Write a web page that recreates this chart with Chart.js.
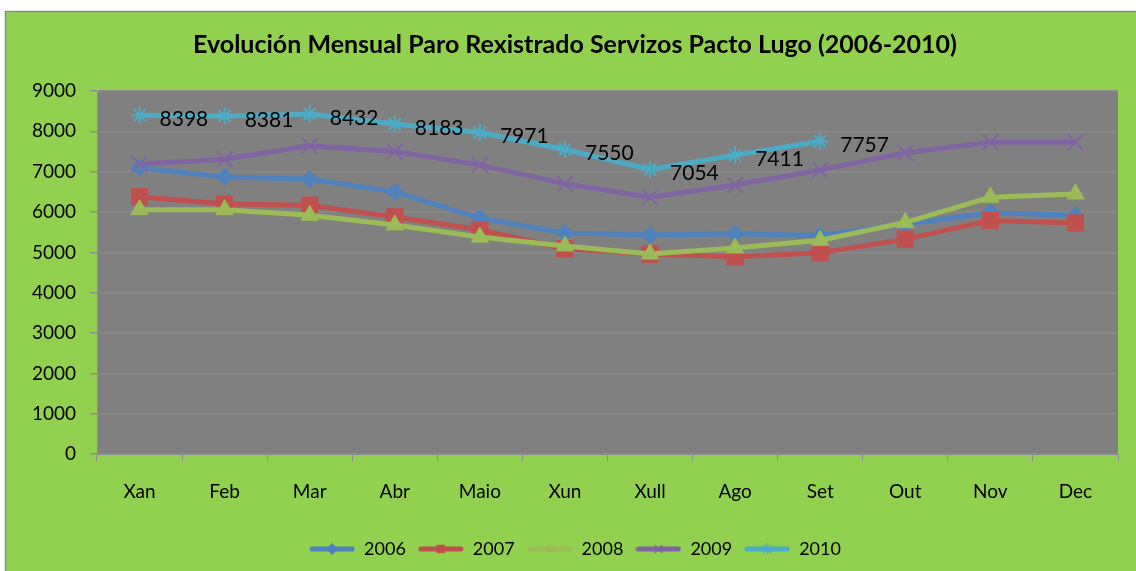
<!DOCTYPE html>
<html>
<head>
<meta charset="utf-8">
<script src="https://cdn.jsdelivr.net/npm/chart.js@4"></script>
<style>
  html, body { margin: 0; padding: 0; background: #fff; }
  #wrap { width: 1136px; height: 571px; }
</style>
</head>
<body>
<div id="wrap"><canvas id="paroChart" width="1136" height="571"></canvas></div>
<script>
const meses = ["Xan", "Feb", "Mar", "Abr", "Maio", "Xun", "Xull", "Ago", "Set", "Out", "Nov", "Dec"];
const anos = ["2006", "2007", "2008", "2009", "2010"];
const paro2006 = [7100, 6870, 6820, 6500, 5850, 5480, 5430, 5460, 5420, 5700, 5980, 5920];
const paro2007 = [6380, 6200, 6170, 5880, 5560, 5090, 4960, 4890, 4990, 5330, 5790, 5730];
const paro2008 = [6060, 6060, 5920, 5680, 5380, 5160, 4960, 5110, 5300, 5740, 6370, 6450];
const paro2009 = [7190, 7310, 7640, 7500, 7170, 6700, 6370, 6670, 7040, 7470, 7730, 7730];
const paro2010 = [8398, 8381, 8432, 8183, 7971, 7550, 7054, 7411, 7757, null, null, null];
const yTicks = [0, 1000, 2000, 3000, 4000, 5000, 6000, 7000, 8000, 9000];

const cores = ["#4F81BD", "#C0504D", "#9BBB59", "#8064A2", "#4BACC6"];
const marcas = ["rectRot", "rect", "triangle", "crossRot", "star"];
const radios = [8.5, 11.5, 10, 11, 8.5];
const series = [paro2006, paro2007, paro2008, paro2009, paro2010];
const fonte = "Lato, 'Liberation Sans', sans-serif";

// iconas da lenda: liña con marca no medio
function iconaLenda(i) {
  const c = document.createElement("canvas");
  c.width = 46; c.height = 14;
  const g = c.getContext("2d");
  g.strokeStyle = cores[i];
  g.fillStyle = cores[i];
  g.lineWidth = 5;
  g.lineCap = "round";
  g.beginPath(); g.moveTo(3, 7); g.lineTo(43, 7); g.stroke();
  g.lineWidth = 1.5;
  Chart.helpers.drawPoint(g, { pointStyle: marcas[i], radius: 5, borderWidth: 1.5 }, 23, 7);
  return c;
}

const fondo = {
  id: "fondo",
  beforeDraw(chart) {
    const g = chart.ctx;
    g.save();
    g.fillStyle = "#fff";
    g.fillRect(0, 0, chart.width, chart.height);
    g.fillStyle = "#92D050";
    g.fillRect(5, 11, chart.width - 5, chart.height - 11);
    g.strokeStyle = "#8c8c8c";
    g.lineWidth = 1.5;
    g.beginPath();
    g.moveTo(5.5, chart.height); g.lineTo(5.5, 11.5); g.lineTo(chart.width, 11.5);
    g.stroke();
    const a = chart.chartArea;
    g.fillStyle = "#808080";
    g.fillRect(a.left, a.top, a.right - a.left, a.bottom - a.top);
    g.restore();
  }
};

const etiquetas = {
  id: "etiquetas",
  afterDatasetsDraw(chart) {
    const g = chart.ctx;
    const meta = chart.getDatasetMeta(4);
    g.save();
    g.font = "21px " + fonte;
    g.fillStyle = "#000";
    g.textBaseline = "middle";
    meta.data.forEach((p, i) => {
      if (paro2010[i] == null) return;
      g.fillText(String(paro2010[i]), p.x + 20, p.y + 4);
    });
    g.restore();
  }
};

const ctx = document.getElementById("paroChart").getContext("2d");
new Chart(ctx, {
  type: "line",
  data: {
    labels: meses,
    datasets: anos.map((a, i) => ({
      label: a,
      data: series[i],
      order: 4 - i,
      borderColor: cores[i],
      backgroundColor: cores[i],
      borderWidth: 5,
      pointStyle: marcas[i],
      pointRadius: radios[i],
      pointBorderWidth: i < 3 ? 1 : 2,
      pointBackgroundColor: cores[i],
      pointBorderColor: cores[i],
      tension: 0,
      spanGaps: false
    }))
  },
  options: {
    responsive: false,
    animation: false,
    layout: { padding: { left: 32, right: 18, top: 0, bottom: 3 } },
    plugins: {
      title: {
        display: true,
        text: "Evolución Mensual Paro Rexistrado Servizos Pacto Lugo (2006-2010)",
        color: "#000",
        font: { family: fonte, size: 25, weight: "bold" },
        padding: { top: 30, bottom: 31 }
      },
      legend: {
        position: "bottom",
        labels: {
          usePointStyle: true,
          pointStyleWidth: 46,
          color: "#000",
          font: { family: fonte, size: 18 },
          padding: 12,
          generateLabels(chart) {
            const items = Chart.defaults.plugins.legend.labels.generateLabels(chart);
            items.sort((p, q) => p.datasetIndex - q.datasetIndex);
            items.forEach(it => { it.pointStyle = iconaLenda(it.datasetIndex); });
            return items;
          }
        }
      },
      tooltip: { enabled: false }
    },
    scales: {
      x: {
        offset: true,
        afterFit(scale) { scale.height += 6; },
        grid: { offset: true, drawOnChartArea: false, drawTicks: true, tickLength: 7, color: "#8c8c8c" },
        border: { color: "#8c8c8c", width: 1 },
        ticks: { color: "#000", font: { family: fonte, size: 19 }, padding: 19 }
      },
      y: {
        min: 0,
        max: 9000,
        afterBuildTicks(scale) { scale.ticks = yTicks.map(v => ({ value: v })); },
        afterFit(scale) { scale.width = 65; },
        grid: { color: "#8a8a8a", lineWidth: 1.5, tickLength: 7, tickColor: "#8c8c8c" },
        border: { color: "#8c8c8c", width: 1 },
        ticks: {
          color: "#000",
          font: { family: fonte, size: 19 },
          padding: 14,
          callback: v => String(v)
        }
      }
    }
  },
  plugins: [fondo, etiquetas]
});
</script>
</body>
</html>
